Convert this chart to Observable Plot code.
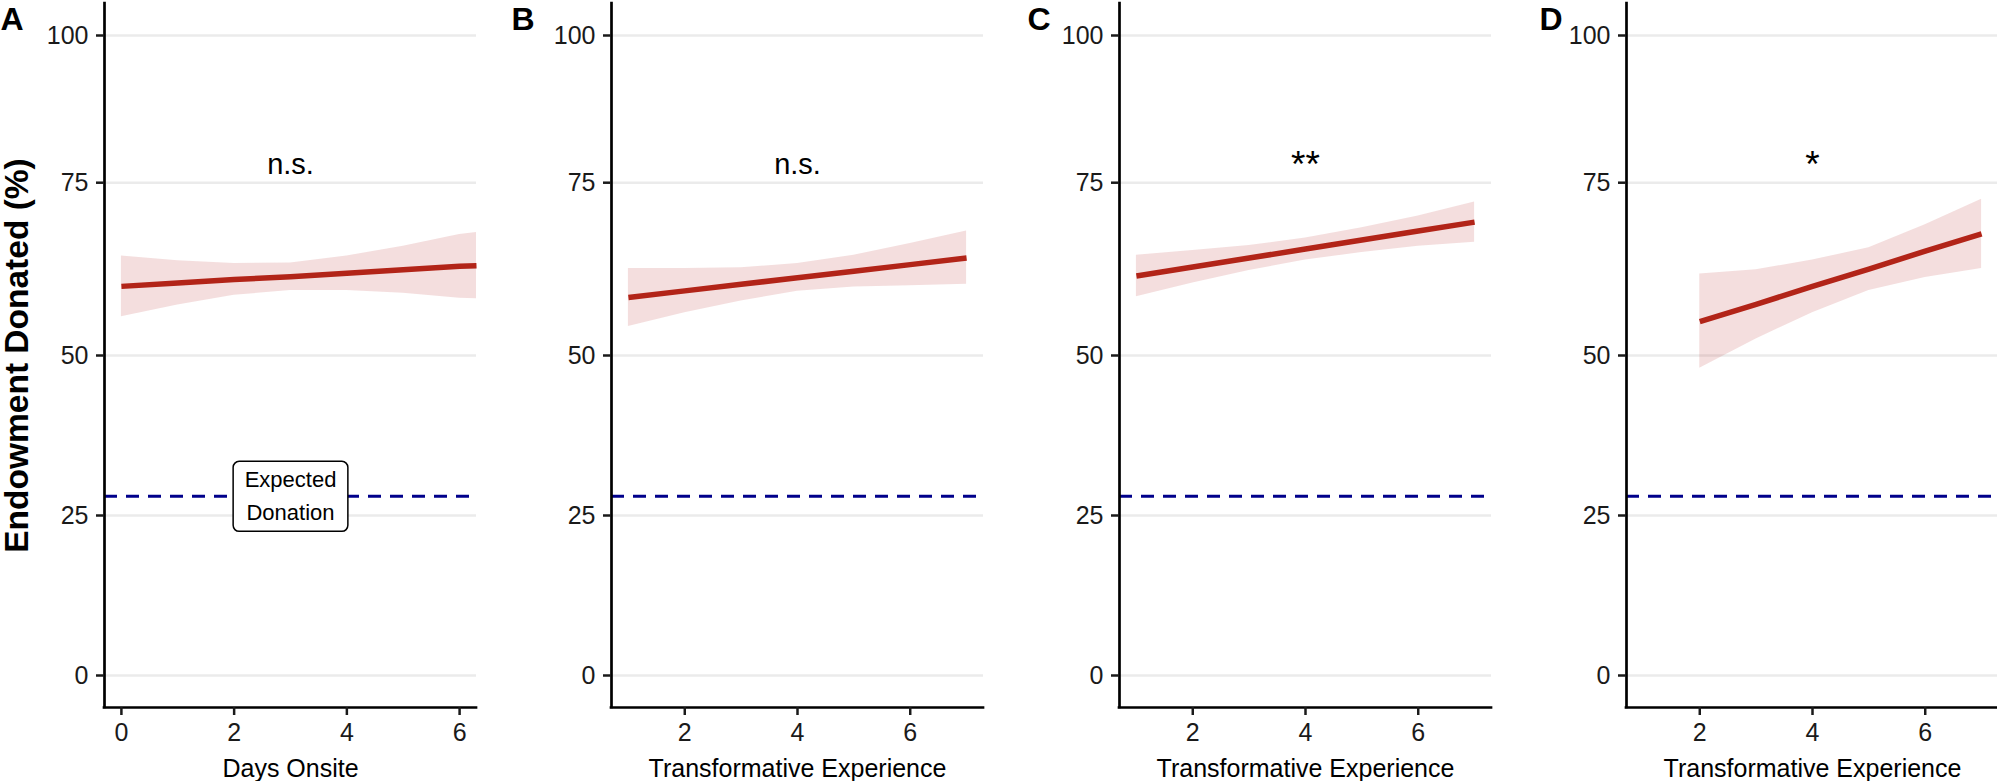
<!DOCTYPE html>
<html>
<head>
<meta charset="utf-8">
<script src="https://cdn.jsdelivr.net/npm/d3@7"></script>
<script src="https://cdn.jsdelivr.net/npm/@observablehq/plot@0.6"></script>
<style>
  html, body { margin: 0; padding: 0; background: #fff; overflow: hidden; }
  #wrap { position: relative; width: 1997px; height: 781px; overflow: hidden; background: #fff; }
  #wrap svg { position: absolute; top: 0; }
</style>
</head>
<body>
<div id="wrap"></div>
<script>
// ---------------- data ----------------
const panelLetters = ["A", "B", "C", "D"];
const xTitles = ["Days Onsite", "Transformative Experience", "Transformative Experience", "Transformative Experience"];
const yTitle = "Endowment Donated (%)";
const yTicks = [0, 25, 50, 75, 100];
const xTicksA = [0, 2, 4, 6];
const xTicksBCD = [2, 4, 6];
const xDomainA = [-0.3, 6.3];
const xDomainBCD = [0.7, 7.3];
const yDomain = [-5, 105];

// Panel A: Days Onsite
const xA   = [0, 1, 2, 3, 4, 5, 6, 6.3];
const fitA = [60.0, 60.5, 61.0, 61.4, 61.9, 62.4, 62.9, 63.0];
const loA  = [55.6, 57.3, 58.7, 59.4, 59.4, 59.0, 58.3, 58.2];
const hiA  = [64.4, 63.7, 63.3, 63.4, 64.4, 65.8, 67.5, 67.8];

// Panel B
const xB   = [1, 2, 3, 4, 5, 6, 7];
const fitB = [58.4, 59.35, 60.3, 61.25, 62.2, 63.15, 64.1];
const loB  = [54.2, 56.2, 57.9, 59.3, 59.9, 60.1, 60.3];
const hiB  = [62.6, 62.6, 62.7, 63.3, 64.5, 66.2, 68.0];

// Panel C
const xC   = [1, 2, 3, 4, 5, 6, 7];
const fitC = [61.5, 62.8, 64.1, 65.4, 66.7, 68.0, 69.3];
const loC  = [58.5, 60.5, 62.3, 63.8, 64.9, 65.8, 66.4];
const hiC  = [64.5, 65.2, 65.9, 67.0, 68.5, 70.2, 72.2];

// Panel D
const xD   = [2, 3, 4, 5, 6, 7];
const fitD = [54.9, 57.4, 60.0, 62.5, 65.1, 67.6];
const loD  = [48.0, 52.4, 56.2, 59.4, 61.3, 62.6];
const hiD  = [61.8, 62.4, 63.8, 65.6, 68.9, 72.6];

const expectedDonation = 28;
const expectedLabel = "Expected\nDonation";
const expectedLabelX = 3;
const sigLabels = ["n.s.", "n.s.", "**", "*"];
const sigX = [3, 4, 4, 4];
const sigY = 78;

// ---------------- layout / style ----------------
const FONT = "'Liberation Sans', Arial, Helvetica, sans-serif";
const layout = {
  panelLeft: [0, 507, 1015, 1522],
  letterDx: [0, 4, 12, 17],
  width: 479, height: 781,
  marginLeft: 104, marginRight: 3, marginTop: 3, marginBottom: 74,
  // the reference's 75 gridline sits slightly off the even spacing; this warp reproduces it
  yStops:  [-5, 0, 25, 50, 75, 100, 105],
  yLinear: [-5, 0, 25, 50, 77, 100, 105]
};
const yWarp = d3.scaleLinear().domain(layout.yStops).range(layout.yLinear);

const panels = [
  {xs: xA, fit: fitA, lo: loA, hi: hiA, xDomain: xDomainA, xTicks: xTicksA},
  {xs: xB, fit: fitB, lo: loB, hi: hiB, xDomain: xDomainBCD, xTicks: xTicksBCD},
  {xs: xC, fit: fitC, lo: loC, hi: hiC, xDomain: xDomainBCD, xTicks: xTicksBCD},
  {xs: xD, fit: fitD, lo: loD, hi: hiD, xDomain: xDomainBCD, xTicks: xTicksBCD}
];

const wrap = document.getElementById("wrap");

panels.forEach((p, i) => {
  const rows = p.xs.map((x, j) => ({x, fit: p.fit[j], lo: p.lo[j], hi: p.hi[j]}));
  const marks = [
    Plot.gridY(yTicks, {stroke: "#ebebeb", strokeOpacity: 1, strokeWidth: 2.5}),
    Plot.areaY(rows, {x: "x", y1: "lo", y2: "hi", fill: "#b22222", fillOpacity: 0.15}),
    Plot.line(rows, {x: "x", y: "fit", stroke: "#b22418", strokeWidth: 5.5, strokeLinecap: "butt"}),
    Plot.ruleY([expectedDonation], {stroke: "#00008b", strokeWidth: 3, strokeDasharray: "13,9"}),
    Plot.ruleX([p.xDomain[0]], {stroke: "#000", strokeWidth: 2.7, strokeLinecap: "square"}),
    Plot.ruleY([yDomain[0]], {stroke: "#000", strokeWidth: 2.7, strokeLinecap: "square"}),
    Plot.axisY(yTicks, {anchor: "left", tickSize: 8, tickPadding: 8, fontSize: 25, strokeWidth: 2.5,
      color: "#1a1a1a", tickFormat: d => String(d), label: null}),
    Plot.axisX(p.xTicks, {anchor: "bottom", tickSize: 8, tickPadding: 8, fontSize: 25, strokeWidth: 2.5,
      color: "#1a1a1a", tickFormat: d => String(d), label: null}),
    Plot.text([{x: sigX[i], y: sigY, t: sigLabels[i]}], {x: "x", y: "y", text: "t",
      fontSize: sigLabels[i].includes("*") ? 37 : 29, fill: "#000", lineAnchor: "middle"}),
    Plot.text([xTitles[i]], {frameAnchor: "bottom", textAnchor: "middle", lineAnchor: "middle",
      dy: 61, fontSize: 25, fill: "#000"}),
    Plot.text([panelLetters[i]], {frameAnchor: "top-left", textAnchor: "start", lineAnchor: "top",
      dx: layout.letterDx[i] - layout.marginLeft, dy: 3.5, fontSize: 32, fontWeight: "bold", fill: "#000"})
  ];
  if (i === 0) {
    marks.push(
      Plot.text([{x: expectedLabelX, y: expectedDonation, t: expectedLabel}], {x: "x", y: "y", text: "t",
        fontSize: 22, lineHeight: 1.5, lineAnchor: "middle", dy: -3, fill: "#000"}),
      Plot.text([yTitle], {frameAnchor: "left", rotate: -90, textAnchor: "middle", lineAnchor: "middle",
        dx: -87.7, fontSize: 33.5, fontWeight: "bold", fill: "#000"})
    );
  }
  const svg = Plot.plot({
    width: layout.width, height: layout.height,
    marginLeft: layout.marginLeft, marginRight: layout.marginRight,
    marginTop: layout.marginTop, marginBottom: layout.marginBottom,
    x: {domain: p.xDomain, range: [layout.marginLeft, layout.width - layout.marginRight]},
    y: {domain: yDomain, range: [layout.height - layout.marginBottom, layout.marginTop], transform: yWarp},
    style: {fontFamily: FONT, background: "transparent", overflow: "visible"},
    marks
  });
  svg.style.left = layout.panelLeft[i] + "px";
  wrap.appendChild(svg);

  if (i === 0) {
    // white rounded box behind the "Expected Donation" label (sized from the text itself)
    const t = Array.from(svg.querySelectorAll("text")).find(el => el.textContent.includes("Expected"));
    if (t) {
      const bb = t.getBBox();
      const padX = 11.5, padY = 6;
      const rect = document.createElementNS("http://www.w3.org/2000/svg", "rect");
      rect.setAttribute("x", bb.x - padX);
      rect.setAttribute("y", bb.y - padY);
      rect.setAttribute("width", bb.width + 2 * padX);
      rect.setAttribute("height", bb.height + 2 * padY);
      rect.setAttribute("rx", 6);
      rect.setAttribute("fill", "#fff");
      rect.setAttribute("stroke", "#000");
      rect.setAttribute("stroke-width", 1.5);
      const tr = t.getAttribute("transform");
      if (tr) rect.setAttribute("transform", tr);
      t.parentNode.insertBefore(rect, t);
    }
  }
});
</script>
</body>
</html>
